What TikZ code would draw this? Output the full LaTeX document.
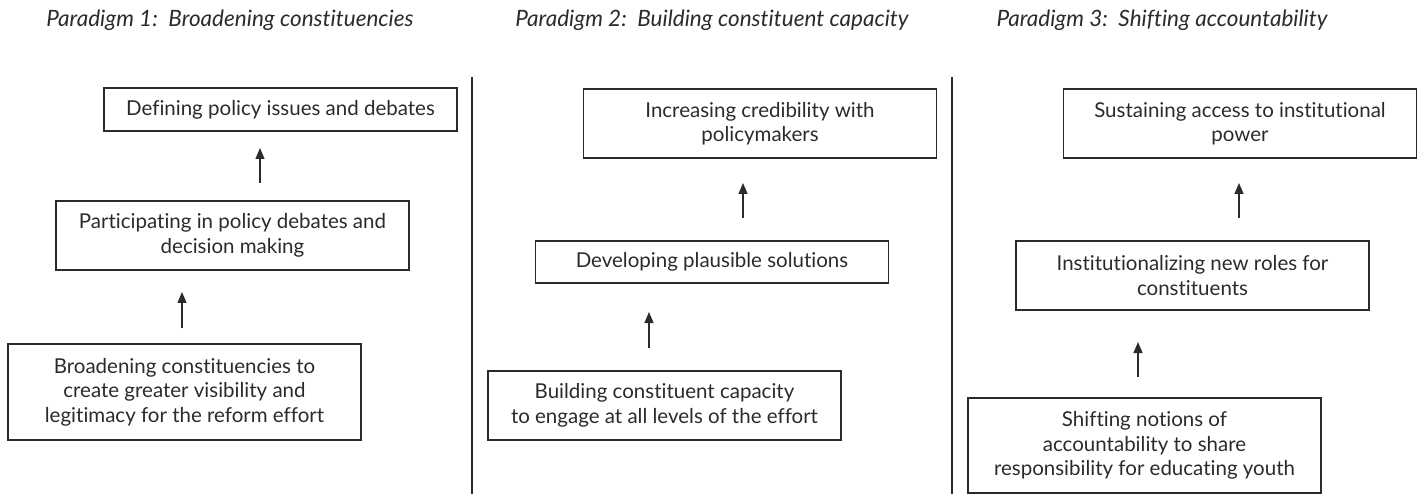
\documentclass[tikz,border=0pt]{standalone}
\usepackage{fontspec}
\setmainfont{Lato}[Ligatures={NoCommon}]
\usetikzlibrary{arrows.meta}
\definecolor{ink}{HTML}{2B2B2B}
\tikzset{
  stage/.style={draw=ink, line width=1.2pt, minimum width=353pt, inner sep=0pt, align=center,
    text=ink, font=\fontsize{20.5}{24.5}\selectfont},
  head/.style={text=ink, font=\fontsize{22.5}{26}\selectfont\itshape, inner sep=0pt},
  arr/.style={draw=ink, line width=1.2pt, -{Triangle[width=9pt,length=11pt]}},
  divider/.style={draw=ink, line width=1.2pt}
}
\begin{document}
\begin{tikzpicture}[x=1pt,y=-1pt]
\useasboundingbox (0,0) rectangle (1424,494);
% titles
\node[head] (t1) at (230,20) {Paradigm 1:\ \ Broadening constituencies};
\node[head] (t2) at (712,20) {Paradigm 2:\ \ Building constituent capacity};
\node[head] (t3) at (1162,20) {Paradigm 3:\ \ Shifting accountability};
% dividers
\coordinate (d1a) at (472,77); \coordinate (d1b) at (472,494);
\coordinate (d2a) at (952,77); \coordinate (d2b) at (952,494);
\draw[divider] (d1a) -- (d1b);
\draw[divider] (d2a) -- (d2b);
% paradigm 1
\node[stage, minimum height=43pt] (A1) at (280.5,109.5) {Defining policy issues and debates};
\node[stage, minimum height=69pt] (A2) at (232.5,235.5) {Participating in policy debates and\\decision making};
\node[stage, minimum height=96pt] (A3) at (184.5,392) {Broadening constituencies to\\create greater visibility and\\legitimacy for the reform effort};
% paradigm 2
\node[stage, minimum height=69pt] (B1) at (760,123.5) {Increasing credibility with\\policymakers};
\node[stage, minimum height=42pt] (B2) at (712,262) {Developing plausible solutions};
\node[stage, minimum height=69pt] (B3) at (664.5,405.5) {Building constituent capacity\\to engage at all levels of the effort};
% paradigm 3
\node[stage, minimum height=69pt] (C1) at (1240,123.5) {Sustaining access to institutional\\power};
\node[stage, minimum height=69pt] (C2) at (1192.5,275.5) {Institutionalizing new roles for\\constituents};
\node[stage, minimum height=95pt] (C3) at (1144.5,445.5) {Shifting notions of\\accountability to share\\responsibility for educating youth};
% arrows
\coordinate (a1s) at (260,183); \coordinate (a1e) at (260,148);
\coordinate (a2s) at (182,328); \coordinate (a2e) at (182,292);
\coordinate (b1s) at (743,218); \coordinate (b1e) at (743,183);
\coordinate (b2s) at (649,348); \coordinate (b2e) at (649,312);
\coordinate (c1s) at (1239,218); \coordinate (c1e) at (1239,183);
\coordinate (c2s) at (1138,377); \coordinate (c2e) at (1138,342);
\draw[arr] (a1s) -- (a1e);
\draw[arr] (a2s) -- (a2e);
\draw[arr] (b1s) -- (b1e);
\draw[arr] (b2s) -- (b2e);
\draw[arr] (c1s) -- (c1e);
\draw[arr] (c2s) -- (c2e);
\end{tikzpicture}
\end{document}
